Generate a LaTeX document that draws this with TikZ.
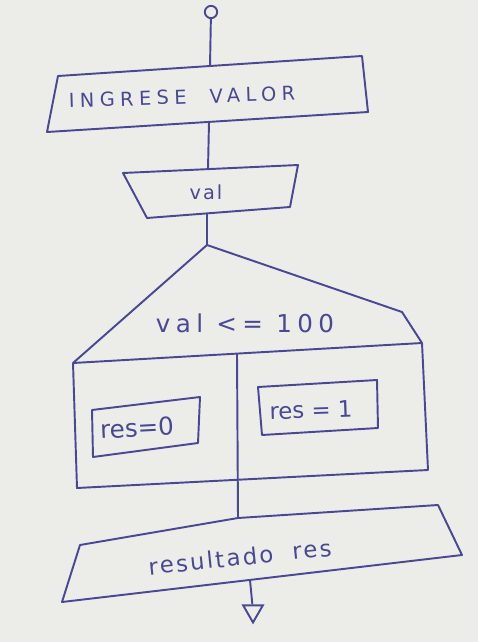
\documentclass[tikz,border=0pt]{standalone}
\usepackage{fontspec}
\usetikzlibrary{positioning,shapes.geometric,calc}
\newfontfamily\handfont{DejaVu Sans}
\definecolor{ink}{RGB}{72,72,150}
\definecolor{paper}{RGB}{236,236,233}

\begin{document}
\begin{tikzpicture}[
    x=0.02cm, y=-0.02cm,
    outline/.style={draw=ink, line width=1.1pt, line join=round},
    link/.style={draw=ink, line width=1.1pt},
    annot/.style={text=ink, inner sep=1pt, font=\handfont},
    terminal/.style={draw=ink, line width=1.1pt, inner sep=0pt},
  ]
    % Paper
    \fill[paper] (0,0) rectangle (478,642);
    \useasboundingbox (0,0) rectangle (478,642);

    % Start
    \node[terminal, circle, minimum size=7pt] (start) at (211,12) {};

    % Input: INGRESE VALOR
    \coordinate (in-tl) at (58,76);
    \coordinate (in-tr) at (362,56);
    \coordinate (in-br) at (368,112);
    \coordinate (in-bl) at (47,132);
    \draw[outline] (in-tl) -- (in-tr) -- (in-br) -- (in-bl) -- cycle;
    \node[annot, rotate=2, font=\handfont\fontsize{11}{13}\selectfont\addfontfeature{LetterSpace=28}]
      (ingrese) at (182,97) {INGRESE\ \ VALOR};
    \coordinate (in-top) at (210,66);
    \coordinate (in-bot) at (209,122);

    % Read: val
    \coordinate (val-tl) at (123,173);
    \coordinate (val-tr) at (298,165);
    \coordinate (val-br) at (290,207);
    \coordinate (val-bl) at (147,218);
    \draw[outline] (val-tl) -- (val-tr) -- (val-br) -- (val-bl) -- cycle;
    \node[annot, font=\handfont\fontsize{11}{13}\selectfont\addfontfeature{LetterSpace=10}]
      (val) at (206,192) {val};
    \coordinate (val-top) at (208,169);
    \coordinate (val-bot) at (207,213);

    % Decision: val <= 100
    \coordinate (dec-apex) at (207,245);
    \coordinate (dec-l) at (73,363);
    \coordinate (dec-r1) at (402,312);
    \coordinate (dec-r2) at (422,343);
    \coordinate (dec-mid) at (237,354);
    \draw[outline] (dec-l) -- (dec-apex) -- (dec-r1) -- (dec-r2) -- cycle;
    \node[annot, font=\handfont\fontsize{14}{16}\selectfont\addfontfeature{LetterSpace=22}]
      (cond) at (245,323) {val <= 100};

    % Branch boxes
    \coordinate (box-bl) at (77,488);
    \coordinate (box-br) at (428,470);
    \draw[outline] (dec-l) -- (box-bl) -- (box-br) -- (dec-r2);

    \coordinate (r0-tl) at (92,410);
    \coordinate (r0-tr) at (200,397);
    \coordinate (r0-br) at (198,443);
    \coordinate (r0-bl) at (93,457);
    \draw[outline] (r0-tl) -- (r0-tr) -- (r0-br) -- (r0-bl) -- cycle;
    \node[annot, rotate=3, font=\handfont\fontsize{14}{16}\selectfont] (res0) at (137,428) {res=0};

    \coordinate (r1-tl) at (258,387);
    \coordinate (r1-tr) at (377,380);
    \coordinate (r1-br) at (378,428);
    \coordinate (r1-bl) at (262,435);
    \draw[outline] (r1-tl) -- (r1-tr) -- (r1-br) -- (r1-bl) -- cycle;
    \node[annot, rotate=2, font=\handfont\fontsize{13}{15}\selectfont] (res1) at (311,410) {res = 1};

    % Output: resultado res
    \coordinate (out-tl) at (80,545);
    \coordinate (out-top) at (238,518);
    \coordinate (out-tr) at (438,505);
    \coordinate (out-br) at (462,555);
    \coordinate (out-bl) at (62,602);
    \draw[outline] (out-tl) -- (out-top) -- (out-tr) -- (out-br) -- (out-bl) -- cycle;
    \node[annot, rotate=6, font=\handfont\fontsize{13}{15}\selectfont\addfontfeature{LetterSpace=10}]
      (resultado) at (240,557) {resultado\ \ res};
    \coordinate (out-bot) at (250,580);

    % End
    \node[terminal, regular polygon, regular polygon sides=3, shape border rotate=180,
          minimum size=13pt] (end) at (253,611) {};

    % Connectors
    \draw[link] (start) -- (in-top);
    \draw[link] (in-bot) -- (val-top);
    \draw[link] (val-bot) -- (dec-apex);
    \draw[link] (dec-mid) -- (out-top);
    \draw[link] (out-bot) -- (end);
  \end{tikzpicture}
\end{document}
